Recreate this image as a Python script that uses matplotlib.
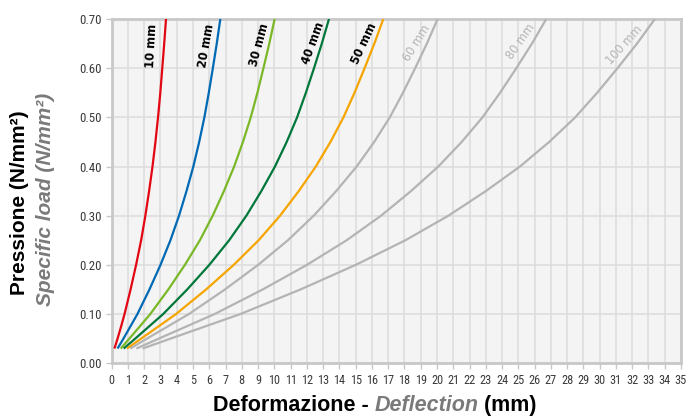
import matplotlib
matplotlib.use("Agg")
import matplotlib.pyplot as plt
from matplotlib import font_manager

# pressure levels (N/mm2) shared by every thickness curve
pressure = [0.03, 0.05, 0.075, 0.10, 0.15, 0.20, 0.25, 0.30, 0.35, 0.40,
            0.45, 0.50, 0.55, 0.60, 0.65, 0.70]

# deflection (mm) for each pad thickness
defl_10 = [0.17, 0.36, 0.58, 0.79, 1.16, 1.50, 1.81, 2.07, 2.30, 2.51,
           2.69, 2.85, 2.99, 3.11, 3.23, 3.34]
defl_20 = [0.36, 0.72, 1.15, 1.58, 2.32, 3.00, 3.61, 4.14, 4.60, 5.02,
           5.38, 5.70, 5.97, 6.22, 6.46, 6.68]
defl_30 = [0.56, 1.08, 1.73, 2.37, 3.48, 4.50, 5.42, 6.21, 6.90, 7.53,
           8.07, 8.55, 8.96, 9.33, 9.69, 10.02]
defl_40 = [0.74, 1.44, 2.30, 3.16, 4.64, 6.00, 7.22, 8.28, 9.20, 10.04,
           10.76, 11.40, 11.94, 12.44, 12.92, 13.36]
defl_50 = [0.94, 1.80, 2.88, 3.95, 5.80, 7.50, 9.03, 10.35, 11.50, 12.55,
           13.45, 14.25, 14.93, 15.55, 16.15, 16.70]
defl_60 = [1.14, 2.16, 3.45, 4.74, 6.96, 9.00, 10.83, 12.42, 13.80, 15.06,
           16.14, 17.10, 17.91, 18.66, 19.38, 20.04]
defl_80 = [1.52, 2.88, 4.60, 6.32, 9.28, 12.00, 14.44, 16.56, 18.40, 20.08,
           21.52, 22.80, 23.88, 24.88, 25.84, 26.72]
defl_100 = [1.90, 3.60, 5.75, 7.90, 11.60, 15.00, 18.05, 20.70, 23.00, 25.10,
            26.90, 28.50, 29.85, 31.10, 32.30, 33.40]

labels = ["10 mm", "20 mm", "30 mm", "40 mm", "50 mm", "60 mm", "80 mm", "100 mm"]
curves = [defl_10, defl_20, defl_30, defl_40, defl_50, defl_60, defl_80, defl_100]
colors = ["#e30613", "#0069b4", "#7ab828", "#00773a", "#f6a500",
          "#b4b4b4", "#b4b4b4", "#b4b4b4"]

# label anchor (x, y) and rotation for each curve name
label_x = [2.45, 5.83, 9.06, 12.37, 15.54, 18.75, 25.15, 31.5]
label_y = [0.645, 0.645, 0.647, 0.650, 0.650, 0.650, 0.654, 0.647]
label_rot = [87, 80, 75, 70, 65, 58, 55, 48]

names = {f.name for f in font_manager.fontManager.ttflist}
tick_font = "Liberation Sans"
for cand in ["Liberation Sans Narrow", "Roboto Condensed", "Open Sans Condensed"]:
    if cand in names:
        tick_font = cand
        break
plt.rcParams["font.family"] = ["Liberation Sans", "DejaVu Sans"]

fig = plt.figure(figsize=(6.86, 4.19), dpi=100)
ax = fig.add_axes([0.1628, 0.1329, 0.8299, 0.822])
ax.set_facecolor("#f4f4f4")

for xs, col in zip(curves, colors):
    ax.plot(xs, pressure, color=col, lw=1.6, solid_capstyle="butt",
            solid_joinstyle="round", zorder=3)

for i, lab in enumerate(labels):
    grey = i >= 5
    ax.text(label_x[i], label_y[i], lab, rotation=label_rot[i],
            ha="center", va="center", fontsize=8.3, family="DejaVu Sans",
            fontweight="normal" if grey else "bold",
            color="#b4b4b4" if grey else "black", zorder=4)

ax.set_xlim(0, 35)
ax.set_ylim(0, 0.70)
ax.set_xticks(range(0, 36))
ax.set_yticks([i / 10 for i in range(8)])
ax.set_yticklabels([f"{i / 10:.2f}" for i in range(8)])
ax.grid(True, color="#dcdcdc", lw=1.1, zorder=0)
ax.set_axisbelow(True)
for s in ax.spines.values():
    s.set_color("#c8c8c8")
    s.set_linewidth(2)
ax.tick_params(colors="#c8c8c8", labelcolor="#3a3a3a", length=4, width=1)
ax.tick_params(axis="x", labelsize=8.8)
ax.tick_params(axis="y", labelsize=9.3)
for t in ax.get_xticklabels() + ax.get_yticklabels():
    t.set_fontfamily(tick_font)

# axis titles: italian in black, english in grey italic
t1 = fig.text(0.31, 0.008, "Deformazione - ", ha="left", va="bottom",
              fontsize=15.5, fontweight="bold", color="black")
t2 = ax.annotate("Deflection", xy=(1, 0), xycoords=t1, va="bottom",
                 fontsize=15.5, fontweight="bold", style="italic",
                 color="#7a7a7a", annotation_clip=False)
ax.annotate(" (mm)", xy=(1, 0), xycoords=t2, va="bottom", fontsize=15.5,
            fontweight="bold", color="black", annotation_clip=False)

fig.text(0.029, 0.517, "Pressione (N/mm²)", rotation=90, ha="center",
         va="center", fontsize=15, fontweight="bold", color="black")
fig.text(0.066, 0.523, "Specific load (N/mm²)", rotation=90,
         ha="center", va="center", fontsize=15, fontweight="bold",
         style="italic", color="#7a7a7a")

fig.savefig("out.png", dpi=100)
plt.close(fig)
